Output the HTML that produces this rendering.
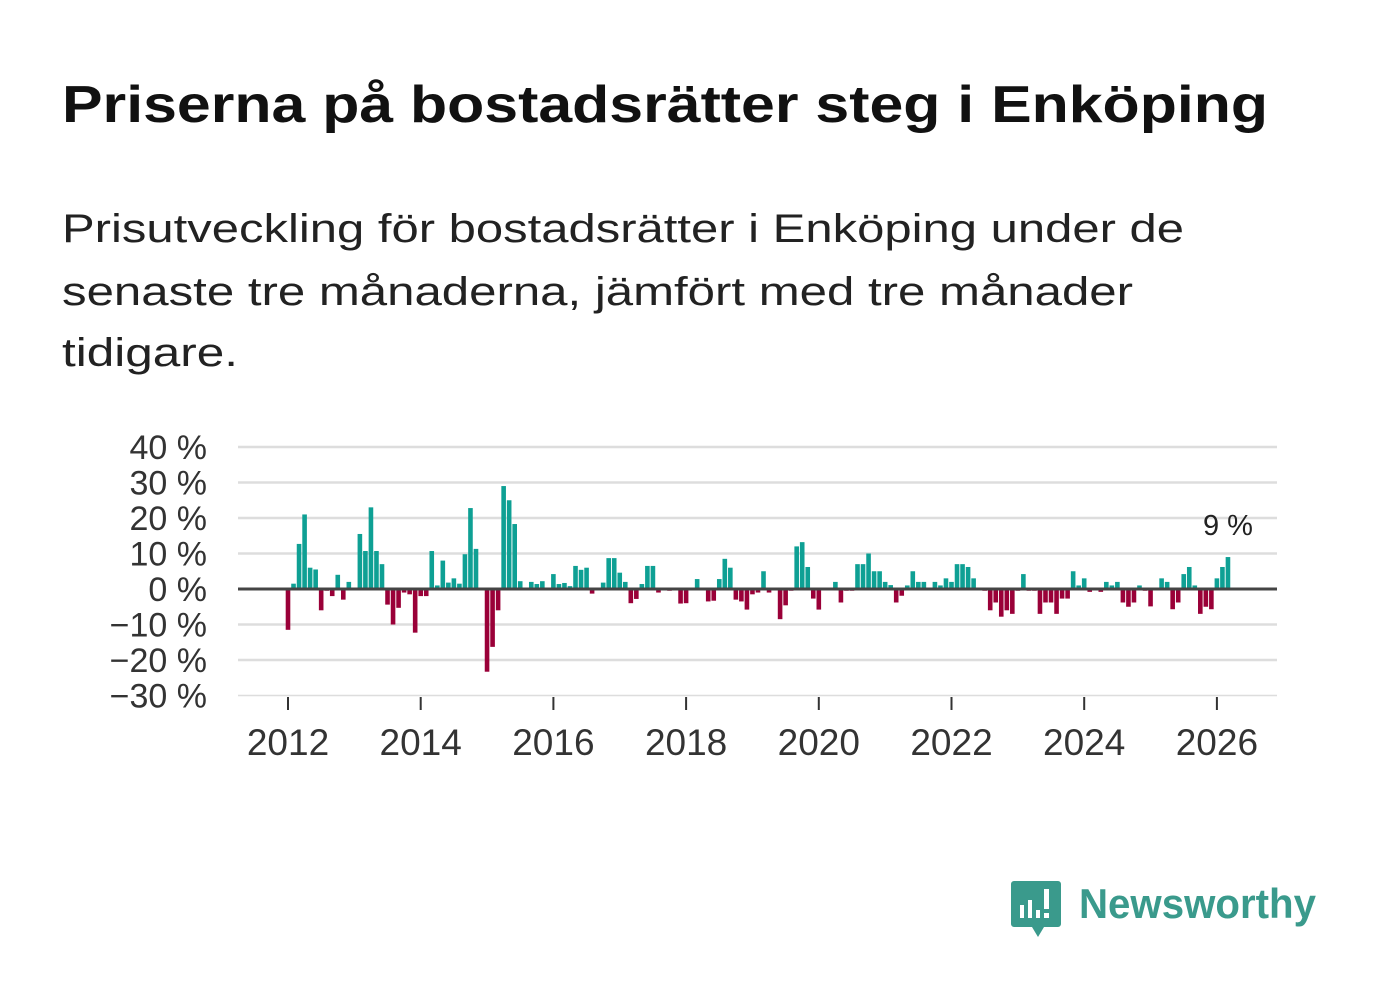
<!DOCTYPE html>
<html><head><meta charset="utf-8"><style>
body{margin:0;background:#fff;}
svg{display:block;font-family:"Liberation Sans","DejaVu Sans",sans-serif;}
</style></head><body>
<svg id="page" width="1382" height="999" viewBox="0 0 1382 999">
<text x="62" y="122" font-size="52" font-weight="bold" fill="#111" textLength="1206" lengthAdjust="spacingAndGlyphs">Priserna på bostadsrätter steg i Enköping</text>
<g font-size="40" fill="#222">
<text x="62" y="242" textLength="1122" lengthAdjust="spacingAndGlyphs">Prisutveckling för bostadsrätter i Enköping under de</text>
<text x="62" y="305" textLength="1071" lengthAdjust="spacingAndGlyphs">senaste tre månaderna, jämfört med tre månader</text>
<text x="62" y="366" textLength="176" lengthAdjust="spacingAndGlyphs">tidigare.</text>
</g>
<g id="plot"></g>
<g>
<path d="M1014 881 h44 a3 3 0 0 1 3 3 v40 a3 3 0 0 1 -3 3 h-14 l-6 10 l-6 -10 h-18 a3 3 0 0 1 -3 -3 v-40 a3 3 0 0 1 3 -3z" fill="#3a9a8c"/>
<rect x="1020" y="905" width="4" height="13" fill="#fff"/><rect x="1028" y="900" width="4" height="18" fill="#fff"/><rect x="1036" y="910" width="4" height="8" fill="#fff"/><rect x="1044" y="889" width="5" height="20" fill="#fff"/><rect x="1044" y="913" width="5" height="5" fill="#fff"/>
<text x="1079" y="918" font-size="42" font-weight="bold" fill="#3a9a8c" textLength="237" lengthAdjust="spacingAndGlyphs">Newsworthy</text>
</g>
</svg>
<script>
const values = [-11.5,1.5,12.7,21,6,5.5,-6,-0.5,-2,4,-3,2,
0,15.5,10.7,23,10.7,7,-4.4,-10,-5.3,-1,-1.5,-12.3,
-2,-2,10.7,1,8,1.8,3,1.5,9.8,22.8,11.3,0,
-23.3,-16.3,-6,29,25,18.3,2.2,0,2,1.4,2.2,0,
4.2,1.4,1.7,0.8,6.5,5.4,6,-1.3,0,1.8,8.7,8.7,
4.6,2,-4,-2.8,1.4,6.5,6.5,-1,0,-0.5,0,-4.1,
-4,0,2.8,0,-3.5,-3.3,2.8,8.5,6,-3,-3.5,-5.8,
-1.5,-1,5,-1,0,-8.5,-4.6,-0.5,12,13.2,6.2,-2.7,
-5.8,0,0,2,-3.8,-0.5,-0.5,7,7,10,5,5,
2,1.1,-3.8,-1.9,1,5,2,2,0,2,1,3,
2,7,7,6.2,3,0,-0.5,-6,-3.8,-7.8,-6,-7,
-0.5,4.2,-0.5,-0.5,-7,-3.8,-3.8,-7,-2.7,-2.7,5,1,
3,-0.8,0,-0.8,2,1,2,-3.8,-5,-3.8,1,-0.5,
-4.9,0,3,2,-5.7,-3.8,4.2,6.2,1,-7,-5,-5.7,
3,6.2,9];
const startYear = 2012;
const yTicks = [40,30,20,10,0,-10,-20,-30];
const xTicks = [2012,2014,2016,2018,2020,2022,2024,2026];
const lastLabel = "9 %";

const NS="http://www.w3.org/2000/svg";
const plot=document.getElementById('plot');
function y(v){return 589 - v*3.55;}
function x(monthIndex){return 288 + monthIndex*(132.7/24);}
function mk(tag,attrs){const e=document.createElementNS(NS,tag);for(const k in attrs)e.setAttribute(k,attrs[k]);plot.appendChild(e);return e;}
yTicks.forEach(t=>{
  if(t!==0){const g=mk('line',{x1:238,x2:1277,y1:y(t),y2:y(t),stroke:'#ddd','stroke-width':t===-30?1.5:2.5});
  
  }
  const l=mk('text',{x:207,y:y(t)+12,'font-size':34,fill:'#333','text-anchor':'end'});
  l.textContent=(t<0?'\u2212'+(-t):t)+' %';
  
  
});
xTicks.forEach(yr=>{
  const xx=x((yr-startYear)*12);
  const tk=mk('line',{x1:xx,x2:xx,y1:697,y2:710,stroke:'#333','stroke-width':2});
  
  
  const l=mk('text',{x:xx,y:755,'font-size':37,fill:'#333','text-anchor':'middle'});
  l.textContent=yr;
  
  
});
values.forEach((v,i)=>{
  const xx=x(i);
  const b=mk('rect',{x:xx-2.3,width:4.6,y:Math.min(y(v),y(0)),height:Math.abs(y(v)-y(0)),fill:v>=0?'#0ea094':'#9a0038'});
  
  
});
const z=mk('line',{x1:238,x2:1277,y1:y(0),y2:y(0),stroke:'#444','stroke-width':3});


const last=values.length-1;
const ll=mk('text',{x:x(last),y:y(values[last])-22,'font-size':29,fill:'#222','text-anchor':'middle'});
ll.textContent=lastLabel;


</script>
</body></html>
